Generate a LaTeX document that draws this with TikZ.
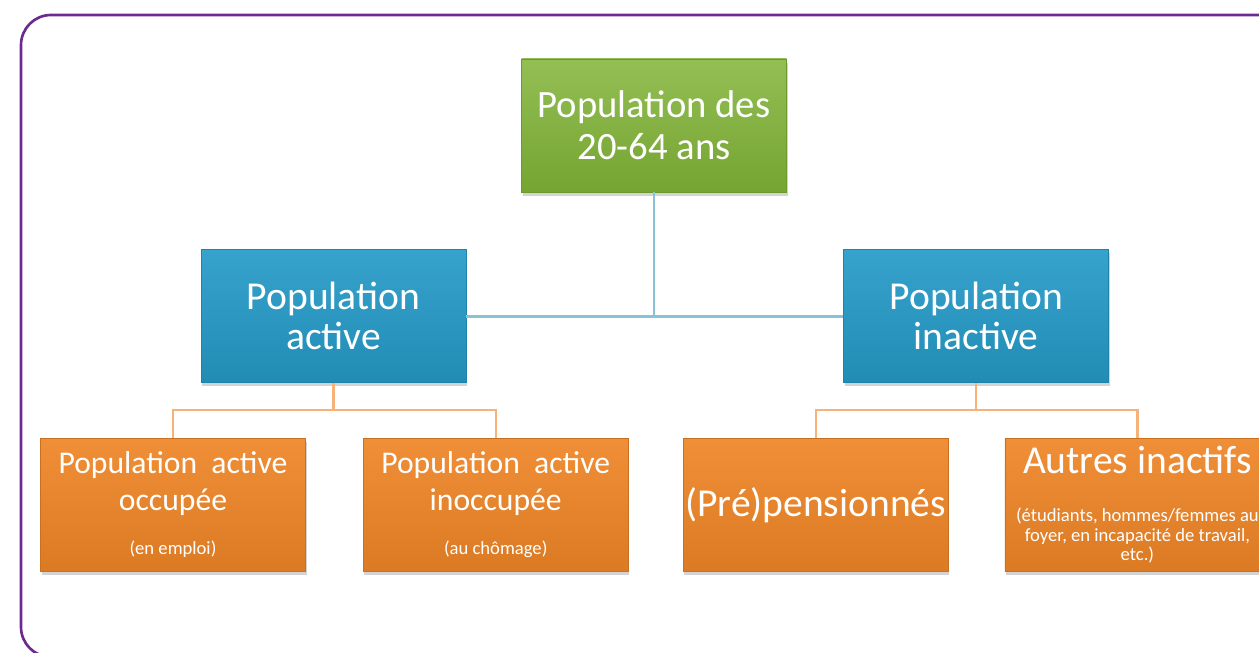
\documentclass[tikz,border=0pt]{standalone}
\usepackage{fontspec}
\setmainfont{Carlito}
\usepackage{xcolor}
\usetikzlibrary{positioning,shadows}
\definecolor{FramePurple}{HTML}{6B2A8E}
\definecolor{TopGreen}{HTML}{80B336}
\definecolor{MidBlue}{HTML}{259BC8}
\definecolor{LeafOrange}{HTML}{EE8526}
\definecolor{LinkTeal}{HTML}{86C3D6}
\definecolor{LinkOrange}{HTML}{F7B27A}
\newcommand{\detailtxt}{\fontsize{10.6}{11.3}\selectfont}

\begin{document}
\begin{tikzpicture}[
  box/.style={minimum width=5.3cm, minimum height=2.66cm, inner sep=0pt, align=center,
    text=white, drop shadow={opacity=0.35, shadow xshift=0.6pt, shadow yshift=-2pt}},
  topbox/.style={box, top color=TopGreen!85!white, bottom color=TopGreen!92!black,
    draw=TopGreen!85!black, font=\fontsize{22}{24}\selectfont},
  midbox/.style={box, top color=MidBlue!92!white, bottom color=MidBlue!90!black,
    draw=MidBlue!85!black, font=\fontsize{22.5}{23}\selectfont},
  leafbox/.style={box, top color=LeafOrange!92!white, bottom color=LeafOrange!92!black,
    draw=LeafOrange!85!black, font=\fontsize{18}{21}\selectfont},
  bigleaf/.style={leafbox, font=\fontsize{22.5}{24}\selectfont},
  tealline/.style={line width=1.5pt, color=LinkTeal},
  orangeline/.style={line width=1.3pt, color=LinkOrange}
]
  \useasboundingbox (0,0) rectangle (25.18,-13.06);
  \draw[line width=1.5pt, color=FramePurple, rounded corners=0.6cm]
    (0.42,-0.30) rectangle (26.2,-13.14);

  \node[topbox] (pop) at (13.08,-2.51) {Population des\\20-64 ans};
  \node[midbox, below=1.14cm of pop, xshift=-6.41cm] (active) {Population\\active};
  \node[midbox, right=7.54cm of active] (inactive) {Population\\inactive};

  \node[leafbox, below=1.1cm of active, xshift=-3.21cm] (occupied)
    {Population\ \ active\\occupée\\[4pt]{\detailtxt (en emploi)}};
  \node[leafbox, right=1.14cm of occupied] (unoccupied)
    {Population\ \ active\\inoccupée\\[4pt]{\detailtxt (au chômage)}};
  \node[bigleaf, below=1.1cm of inactive, xshift=-3.21cm] (retired) {(Pré)pensionnés};
  \node[bigleaf, right=1.12cm of retired] (others)
    {Autres inactifs\\[3pt]\parbox[t]{5.3cm}{\centering\detailtxt
      (étudiants, hommes/femmes au\\foyer, en incapacité de travail,\\etc.)}};

  \draw[tealline] (active.east) -- (inactive.west);
  \draw[tealline] (pop.south) -- (pop.south |- active.east);

  \draw[orangeline] (active.south) -- ++(0,-0.54) -| (occupied.north);
  \draw[orangeline] (active.south) -- ++(0,-0.54) -| (unoccupied.north);
  \draw[orangeline] (inactive.south) -- ++(0,-0.54) -| (retired.north);
  \draw[orangeline] (inactive.south) -- ++(0,-0.54) -| (others.north);
\end{tikzpicture}
\end{document}
